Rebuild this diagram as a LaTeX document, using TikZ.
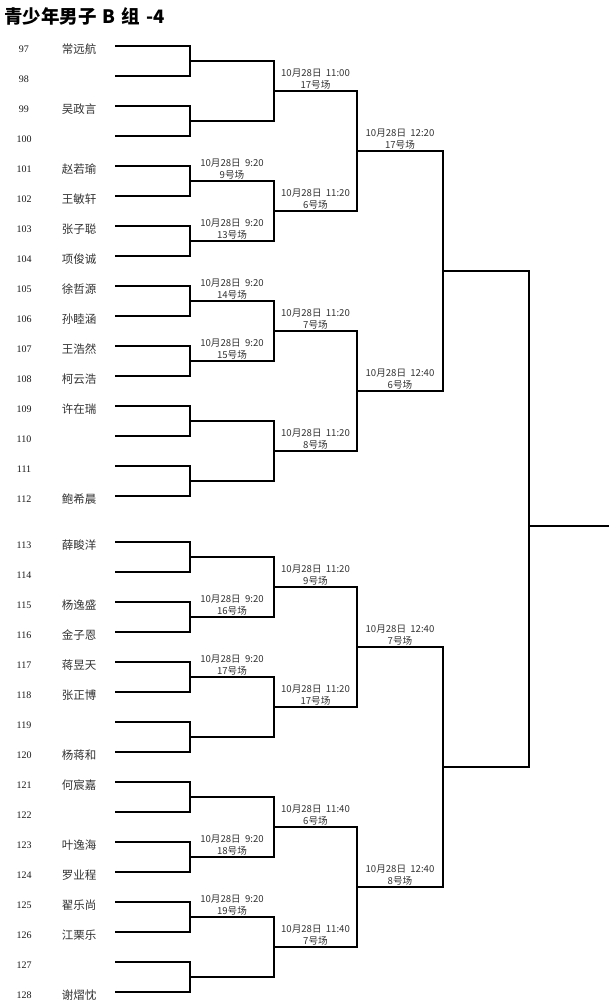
\documentclass[tikz,border=0pt]{standalone}
\usepackage{fontspec}
\setmainfont{Liberation Serif}
\newfontfamily\cjk{Noto Sans CJK SC}
\usetikzlibrary{calc}
\definecolor{txt}{HTML}{333333}
\definecolor{numc}{HTML}{1a1a1a}
\begin{document}
\begin{tikzpicture}[x=1pt,y=-1pt,
  br/.style={line width=1.5pt,line cap=rect,black},
  numl/.style={font=\fontsize{10}{10}\selectfont,text=numc,inner sep=0pt},
  naml/.style={font=\cjk\fontsize{11.5}{12}\selectfont,text=txt,inner sep=0pt},
  mlab/.style={font=\cjk\fontsize{9.6}{12.5}\selectfont,text=txt,align=center,inner sep=0pt,anchor=south,yshift=1.5pt}]
\fill[white] (0,0) rectangle (612,1004);
\node[anchor=west,inner sep=0pt,font=\cjk\bfseries\fontsize{18.5}{20}\selectfont] (title) at (4,16) {青少年男子\hspace{6pt}B\hspace{6pt}组\hspace{6pt}-4};
\foreach \i/\num/\nm in {0/97/常远航,1/98/,2/99/吴政言,3/100/,4/101/赵若瑜,5/102/王敏轩,6/103/张子聪,7/104/项俊诚,8/105/徐哲源,9/106/孙睦涵,10/107/王浩然,11/108/柯云浩,12/109/许在瑞,13/110/,14/111/,15/112/鲍希晨,16/113/薛畯洋,17/114/,18/115/杨逸盛,19/116/金子恩,20/117/蒋昱天,21/118/张正博,22/119/,23/120/杨蒋和,24/121/何宸嘉,25/122/,26/123/叶逸海,27/124/罗业程,28/125/翟乐尚,29/126/江栗乐,30/127/,31/128/谢熠忱}{
  \pgfmathsetmacro\yy{(\i<16)*(46+30*\i)+(\i>15)*(542+30*(\i-16))}
  \node[numl] (n\i) at (24,\yy+3) {\num};
  \node[naml] (p\i) at (79,\yy+3) {\nm};
  \coordinate (s\i) at (116,\yy);
  \coordinate (e1-\i) at (190,\yy);
  \draw[br] (s\i) -- (e1-\i);
}
\foreach \lv/\prev/\n/\len in {2/1/15/84,3/2/7/83,4/3/3/86,5/4/1/86}{
  \foreach \k in {0,...,\n}{
    \pgfmathtruncatemacro\a{2*\k}
    \pgfmathtruncatemacro\b{2*\k+1}
    \draw[br] (e\prev-\a) -- (e\prev-\b);
    \coordinate (j\lv-\k) at ($(e\prev-\a)!0.5!(e\prev-\b)$);
    \coordinate (e\lv-\k) at ($(j\lv-\k)+(\len,0)$);
    \draw[br] (j\lv-\k) -- (e\lv-\k);
  }
}
\draw[br] (e5-0) -- (e5-1);
\coordinate (j6-0) at (529,526);
\coordinate (fin) at (608,526);
\draw[br] (j6-0) -- (fin);
\foreach \lv/\k/\tm/\ct in {2/2/9:20/9,2/3/9:20/13,2/4/9:20/14,2/5/9:20/15,2/9/9:20/16,2/10/9:20/17,2/13/9:20/18,2/14/9:20/19,
  3/0/11:00/17,3/1/11:20/6,3/2/11:20/7,3/3/11:20/8,3/4/11:20/9,3/5/11:20/17,3/6/11:40/6,3/7/11:40/7,
  4/0/12:20/17,4/1/12:40/6,4/2/12:40/7,4/3/12:40/8}{
  \node[mlab] (m\lv-\k) at ($(j\lv-\k)!0.5!(e\lv-\k)$) {10月28日\ \ {\tm}\\{\ct}号场};
}
\end{tikzpicture}
\end{document}
